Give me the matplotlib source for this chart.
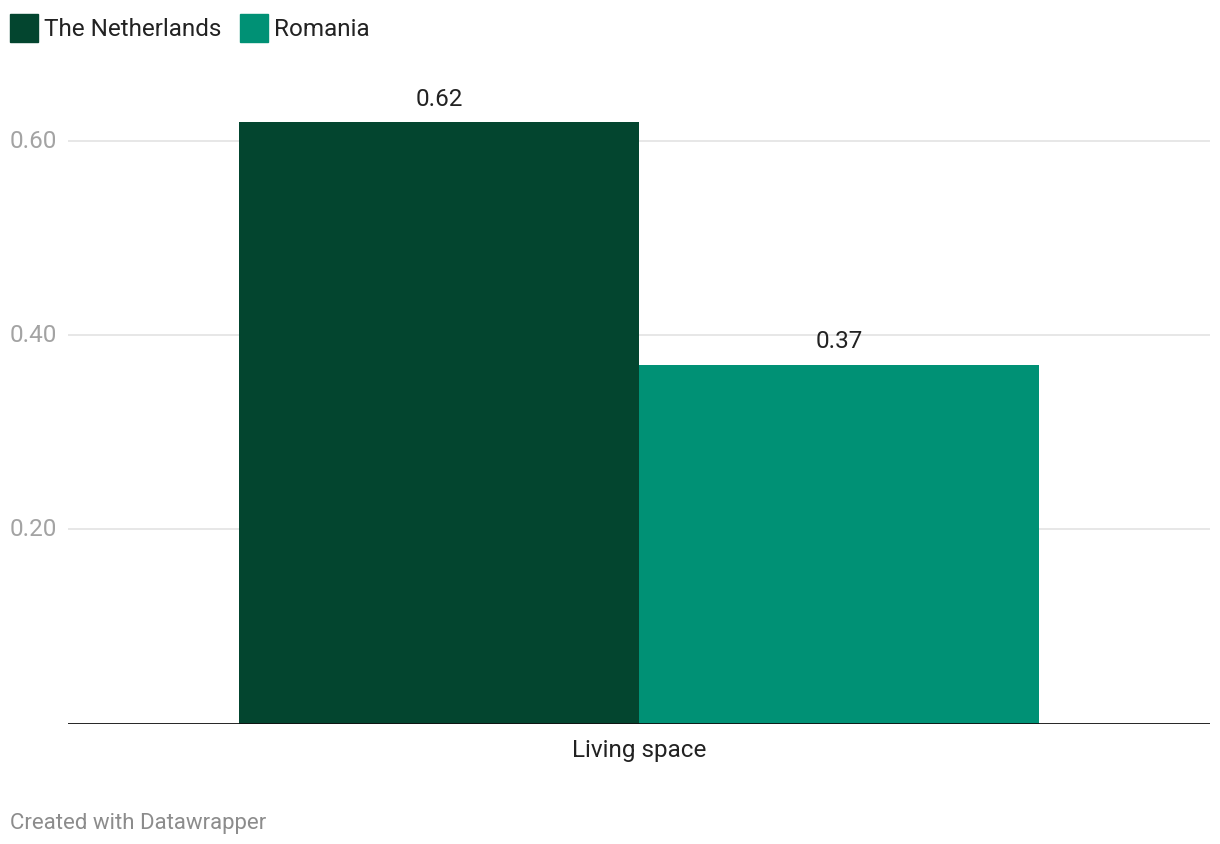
import matplotlib.pyplot as plt
from matplotlib.patches import Rectangle

categories = ["Living space"]
series = ["The Netherlands", "Romania"]
netherlands = [0.62]
romania = [0.37]
yticks = [0.20, 0.40, 0.60]
colors = ["#03452f", "#009175"]

plt.rcParams['font.family'] = ['Roboto', 'DejaVu Sans']

W, H = 1220, 844
fig = plt.figure(figsize=(W / 100, H / 100), dpi=100)
ax = fig.add_axes([68 / W, 1 - 723.5 / H, 1142 / W, 622 / H])

w = 0.35
x = range(len(categories))
values = [netherlands, romania]
for i, (vals, col) in enumerate(zip(values, colors)):
    pos = [xi + (i - 0.5) * w for xi in x]
    bars = ax.bar(pos, vals, width=w, color=col, zorder=2)
    for b, v in zip(bars, vals):
        ax.annotate(f"{v:.2f}", (b.get_x() + b.get_width() / 2, v),
                    xytext=(0, 8), textcoords="offset points",
                    ha="center", va="bottom", fontsize=17.5, color="#222222")

ax.set_xlim(-0.5, 0.5)
ax.set_ylim(0, 0.6412)
for t in yticks:
    ax.axhline(t, color="#e3e3e3", lw=1.2, zorder=1)
    ax.text(-58 / 1142, t, f"{t:.2f}", transform=ax.get_yaxis_transform(),
            ha="left", va="center", fontsize=17.5, color="#a3a3a3")
ax.axhline(0, color="#111111", lw=2, zorder=3)

ax.set_yticks([])
ax.set_xticks(list(x))
ax.set_xticklabels(categories, fontsize=17.5, color="#222222")
ax.tick_params(axis="x", length=0, pad=11)
for s in ax.spines.values():
    s.set_visible(False)

# legend
lx = [10, 240]
for name, col, x0 in zip(series, colors, lx):
    fig.patches.append(Rectangle((x0 / W, 1 - 42 / H), 28 / W, 28 / H,
                                 transform=fig.transFigure, color=col))
    fig.text((x0 + 34) / W, 1 - 30 / H, name, ha="left", va="center",
             fontsize=17.5, color="#222222")

fig.text(10 / W, 1 - 823 / H, "Created with Datawrapper", ha="left",
         va="center", fontsize=16, color="#8c8c8c")

plt.savefig("out.png", dpi=100)
